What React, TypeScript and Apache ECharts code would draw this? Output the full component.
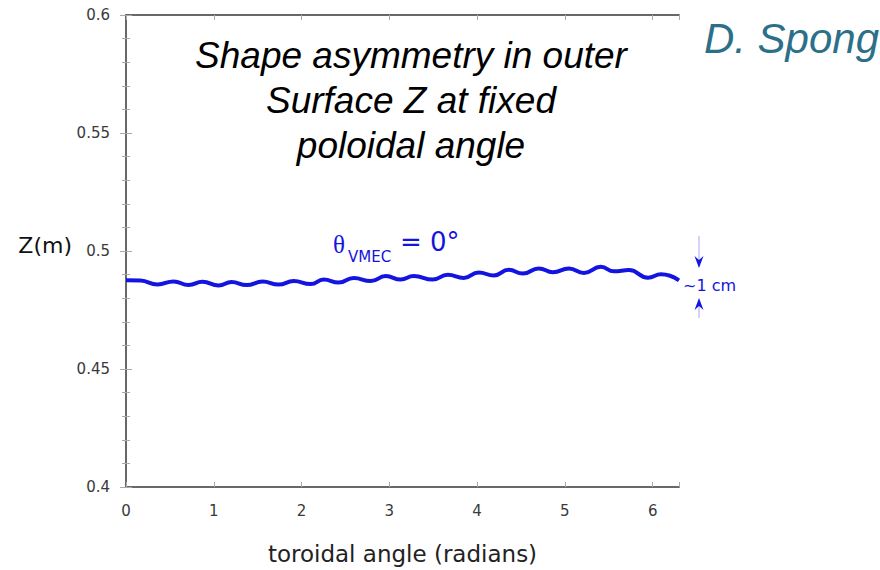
import React, { useEffect, useRef } from "react";
import * as echarts from "echarts";

// toroidal angle (radians) and Z (m) (θ_VMEC = 0°)
const angle = [
  0, 0.165, 0.359, 0.542, 0.713, 0.872, 1.055, 1.203, 1.374, 1.556, 1.739, 1.91,
  2.104, 2.252, 2.423, 2.594, 2.788, 2.959, 3.13, 3.278, 3.495, 3.666, 3.848,
  4.019, 4.19, 4.361, 4.521, 4.703, 4.863, 5.046, 5.217, 5.41, 5.559, 5.73,
  5.946, 6.095, 6.3,
];
const zValues = [
  0.48757, 0.48745, 0.48578, 0.48712, 0.48557, 0.48696, 0.48536, 0.48683,
  0.48557, 0.48704, 0.48578, 0.48725, 0.48599, 0.48788, 0.48663, 0.48852,
  0.48726, 0.48936, 0.4879, 0.48936, 0.4879, 0.48991, 0.48861, 0.49093, 0.48959,
  0.49203, 0.49043, 0.49262, 0.49098, 0.49262, 0.49073, 0.49329, 0.4914,
  0.49193, 0.48871, 0.49011, 0.48757,
];
const titleLines = ["Shape asymmetry in outer", "Surface Z at fixed", "poloidal angle"];
const author = "D. Spong";
const xName = "toroidal angle (radians)";
const yName = "Z(m)";

export default function App() {
  const ref = useRef<HTMLDivElement>(null);
  useEffect(() => {
    if (!ref.current) return;
    const chart = echarts.init(ref.current, null, { renderer: "svg" });
    const axisColor = "#686868";
    const tickFont = { fontFamily: "DejaVu Sans", fontSize: 15, color: "#3a3a3a" };
    const blue = "#1414e0";
    chart.setOption({
      animation: false,
      backgroundColor: "#ffffff",
      grid: { left: 126, top: 15, right: 201, bottom: 80 },
      xAxis: [
        {
          type: "value",
          min: 0,
          max: 6.3,
          interval: 1,
          position: "bottom",
          axisLine: { show: true, lineStyle: { color: axisColor, width: 2 } },
          axisTick: { show: true, inside: true, length: 5, lineStyle: { color: "#aaa" } },
          axisLabel: {
            ...tickFont,
            margin: 16,
            formatter: (v: number) => (Number.isInteger(v) ? String(v) : ""),
          },
          splitLine: { show: false },
          name: xName,
          nameLocation: "middle",
          nameGap: 55,
          nameTextStyle: { fontFamily: "DejaVu Sans", fontSize: 23, color: "#222" },
        },
        {
          type: "value",
          min: 0,
          max: 6.3,
          interval: 1,
          position: "top",
          axisLine: { show: true, lineStyle: { color: axisColor, width: 2 } },
          axisTick: { show: true, inside: true, length: 5, lineStyle: { color: "#aaa" } },
          axisLabel: { show: false },
          splitLine: { show: false },
        },
      ],
      yAxis: [
        {
          type: "value",
          min: 0.4,
          max: 0.6,
          interval: 0.05,
          position: "left",
          axisLine: { show: true, lineStyle: { color: axisColor, width: 2 } },
          axisTick: { show: true, inside: true, length: 6, lineStyle: { color: "#aaa" } },
          minorTick: { show: true, splitNumber: 5, length: 4, lineStyle: { color: "#aaa" } },
          axisLabel: {
            ...tickFont,
            margin: 16,
            formatter: (v: number) => String(parseFloat(v.toFixed(2))),
          },
          splitLine: { show: false },
        },
        {
          type: "value",
          min: 0.4,
          max: 0.6,
          interval: 0.05,
          position: "right",
          axisLine: { show: true, lineStyle: { color: axisColor, width: 2 } },
          axisTick: { show: true, inside: true, length: 6, lineStyle: { color: "#aaa" } },
          minorTick: { show: true, splitNumber: 5, length: 4, lineStyle: { color: "#aaa" } },
          axisLabel: { show: false },
          splitLine: { show: false },
        },
      ],
      series: [
        {
          type: "line",
          xAxisIndex: 0,
          yAxisIndex: 0,
          data: angle.map((a, i) => [a, zValues[i]]),
          smooth: 0.5,
          showSymbol: false,
          lineStyle: { color: blue, width: 4 },
        },
      ],
      graphic: [
        ...titleLines.map((t, i) => ({
          type: "text",
          x: 411,
          y: 55 + i * 45,
          style: {
            text: t,
            font: "italic 37px 'Liberation Sans', Arial, sans-serif",
            fill: "#000",
            textAlign: "center",
            textVerticalAlign: "middle",
          },
        })),
        {
          type: "text",
          x: 879,
          y: 38,
          style: {
            text: author,
            font: "italic 42px 'Liberation Sans', Arial, sans-serif",
            fill: "#2b7088",
            textAlign: "right",
            textVerticalAlign: "middle",
          },
        },
        {
          type: "text",
          x: 72,
          y: 245,
          style: {
            text: yName,
            font: "22px 'DejaVu Sans', sans-serif",
            fill: "#111",
            textAlign: "right",
            textVerticalAlign: "middle",
          },
        },
        {
          type: "text",
          x: 333,
          y: 244,
          style: {
            text: "θ",
            font: "25px 'Liberation Serif', serif",
            fill: blue,
            textAlign: "left",
            textVerticalAlign: "middle",
          },
        },
        {
          type: "text",
          x: 348,
          y: 257,
          style: {
            text: "VMEC",
            font: "15px 'DejaVu Sans', sans-serif",
            fill: blue,
            textAlign: "left",
            textVerticalAlign: "middle",
          },
        },
        {
          type: "text",
          x: 400,
          y: 242,
          style: {
            text: "= 0°",
            font: "26px 'DejaVu Sans', sans-serif",
            fill: blue,
            textAlign: "left",
            textVerticalAlign: "middle",
          },
        },
        {
          type: "text",
          x: 683,
          y: 285,
          style: {
            text: "~1 cm",
            font: "16px 'DejaVu Sans', sans-serif",
            fill: blue,
            textAlign: "left",
            textVerticalAlign: "middle",
          },
        },
        {
          type: "line",
          shape: { x1: 699, y1: 236, x2: 699, y2: 262 },
          style: { stroke: "#a8a8f0", lineWidth: 1 },
        },
        {
          type: "polygon",
          shape: { points: [[694.5, 256], [699, 268], [703.5, 256], [699, 260]] },
          style: { fill: blue },
        },
        {
          type: "line",
          shape: { x1: 699, y1: 303, x2: 699, y2: 318 },
          style: { stroke: "#a8a8f0", lineWidth: 1 },
        },
        {
          type: "polygon",
          shape: { points: [[694.5, 310], [699, 298], [703.5, 310], [699, 306]] },
          style: { fill: blue },
        },
      ],
    });
    return () => chart.dispose();
  }, []);
  return <div ref={ref} style={{ width: 880, height: 570, position: "absolute", left: 0, top: 0 }} />;
}
